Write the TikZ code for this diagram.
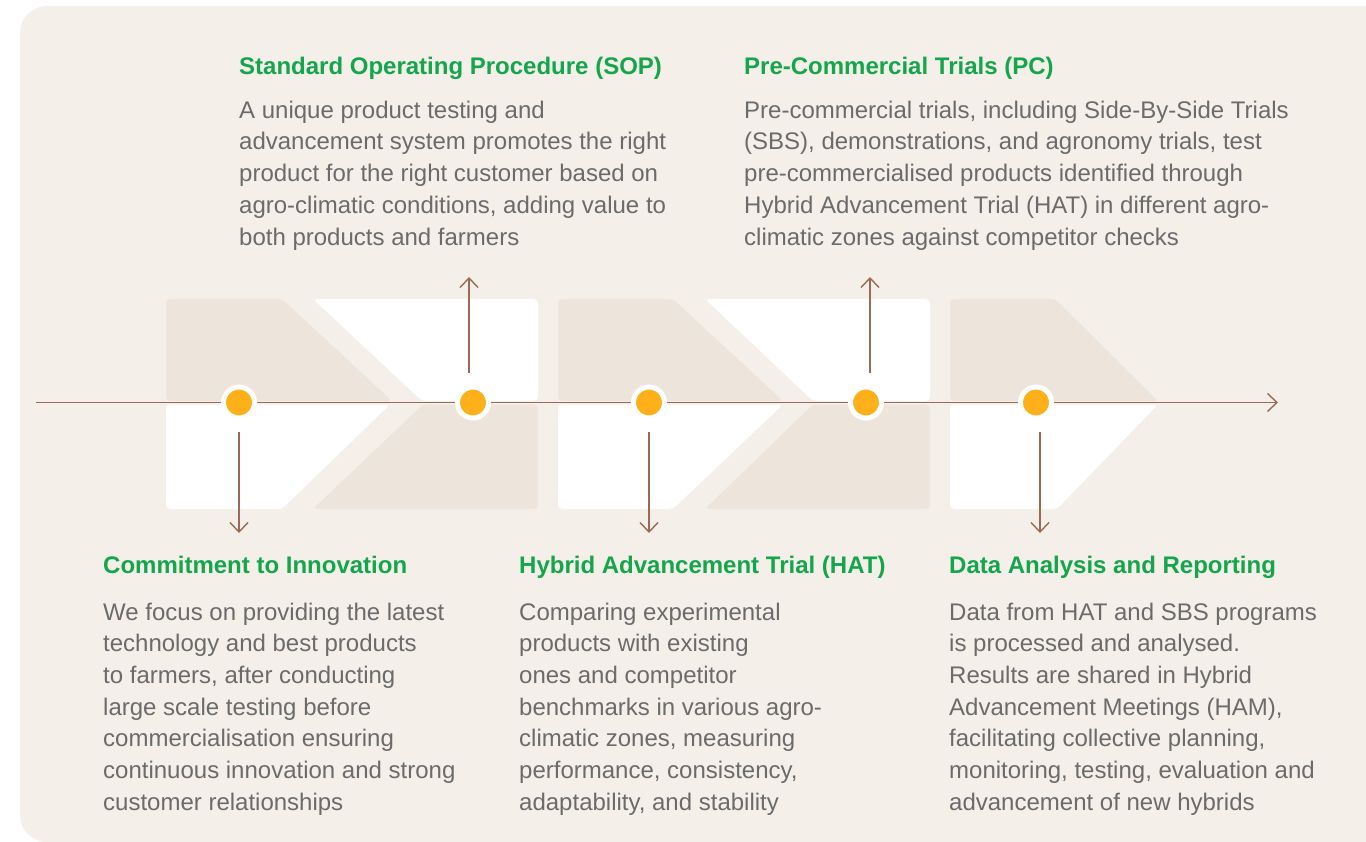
\documentclass[tikz,border=0pt]{standalone}
\usepackage{fontspec}
\setmainfont{Liberation Sans}
\usetikzlibrary{arrows.meta}

\definecolor{panel}{HTML}{F4EFE9}
\definecolor{sand}{HTML}{EDE5DB}
\definecolor{rust}{HTML}{9A6A56}
\definecolor{amber}{HTML}{FDB01A}
\definecolor{leaf}{HTML}{14A54D}
\definecolor{ink}{HTML}{6B6B6B}

\begin{document}
\begin{tikzpicture}[x=1pt,y=-1pt,
  tan/.style={fill=sand,rounded corners=4pt},
  blank/.style={fill=white,rounded corners=4pt},
  flow/.style={draw=rust,line width=1.4pt,-{Straight Barb[length=9.5pt,width=18pt,line width=1.4pt]}},
  milestone/.style={circle,inner sep=0pt,minimum size=31pt,fill=amber,draw=white,line width=5pt},
  heading/.style={anchor=base west,inner sep=0pt,text=leaf,font=\fontsize{24}{29}\selectfont\bfseries},
  % multi-line blocks are anchored at the baseline of their last line
  blurb/.style={anchor=base west,inner sep=0pt,align=left,text=ink,font=\fontsize{24}{31.7}\selectfont}]

% canvas and rounded panel
\useasboundingbox (0,0) rectangle (1366,842);
\fill[white] (0,0) rectangle (1366,842);
\clip (0,0) rectangle (1366,842);
\fill[panel,rounded corners=27pt] (20,6) rectangle (1420,842);

% chevron band: upper halves
\fill[tan]   (166,299) -- (282,299) -- (392,401) -- (166,401) -- cycle;
\fill[blank] (313,299) -- (422,401) -- (538,401) -- (538,299) -- cycle;
\fill[tan]   (558,299) -- (673,299) -- (783,401) -- (558,401) -- cycle;
\fill[blank] (705,299) -- (813,401) -- (930,401) -- (930,299) -- cycle;
\fill[tan]   (950,299) -- (1055,299) -- (1158,401) -- (950,401) -- cycle;

% chevron band: lower halves
\fill[blank] (166,404.5) -- (390,404.5) -- (282,509) -- (166,509) -- cycle;
\fill[tan]   (423,404.5) -- (313,509) -- (538,509) -- (538,404.5) -- cycle;
\fill[blank] (558,404.5) -- (783,404.5) -- (673,509) -- (558,509) -- cycle;
\fill[tan]   (813,404.5) -- (705,509) -- (930,509) -- (930,404.5) -- cycle;
\fill[blank] (950,404.5) -- (1158,404.5) -- (1057,509) -- (950,509) -- cycle;

% timeline axis
\coordinate (axisStart) at (36,402.5);
\coordinate (axisEnd) at (1278,402.5);
\draw[flow] (axisStart) -- (axisEnd);

% milestones
\node[milestone] (d1) at (239,402.5) {};
\node[milestone] (d2) at (473,402.5) {};
\node[milestone] (d3) at (649,402.5) {};
\node[milestone] (d4) at (866,402.5) {};
\node[milestone] (d5) at (1036,402.5) {};

% pointers from milestones to their descriptions
\coordinate (p1) at (239,533);
\coordinate (p2) at (469,277);
\coordinate (p3) at (649,533);
\coordinate (p4) at (870,277);
\coordinate (p5) at (1040,533);
\draw[flow] (d1.center |- 0,432) -- (p1);
\draw[flow] (p2 |- 0,373) -- (p2);
\draw[flow] (d3.center |- 0,432) -- (p3);
\draw[flow] (p4 |- 0,373) -- (p4);
\draw[flow] (p5 |- 0,432) -- (p5);

% upper descriptions
\node[heading] (sopT) at (239,75) {Standard Operating Procedure (SOP)};
\node[blurb] (sopB) at (239,245.1) {A unique product testing and\\
advancement system promotes the right\\
product for the right customer based on\\
agro-climatic conditions, adding value to\\
both products and farmers};

\node[heading] (pcT) at (744,75) {Pre-Commercial Trials (PC)};
\node[blurb] (pcB) at (744,245.1) {Pre-commercial trials, including Side-By-Side Trials\\
(SBS), demonstrations, and agronomy trials, test\\
pre-commercialised products identified through\\
Hybrid Advancement Trial (HAT) in different agro-\\
climatic zones against competitor checks};

% lower descriptions
\node[heading] (ciT) at (103,573) {Commitment to Innovation};
\node[blurb] (ciB) at (103,810.2) {We focus on providing the latest\\
technology and best products\\
to farmers, after conducting\\
large scale testing before\\
commercialisation ensuring\\
continuous innovation and strong\\
customer relationships};

\node[heading] (hatT) at (519,573) {Hybrid Advancement Trial (HAT)};
\node[blurb] (hatB) at (519,810.2) {Comparing experimental\\
products with existing\\
ones and competitor\\
benchmarks in various agro-\\
climatic zones, measuring\\
performance, consistency,\\
adaptability, and stability};

\node[heading] (darT) at (949,573) {Data Analysis and Reporting};
\node[blurb] (darB) at (949,810.2) {Data from HAT and SBS programs\\
is processed and analysed.\\
Results are shared in Hybrid\\
Advancement Meetings (HAM),\\
facilitating collective planning,\\
monitoring, testing, evaluation and\\
advancement of new hybrids};
\end{tikzpicture}
\end{document}
